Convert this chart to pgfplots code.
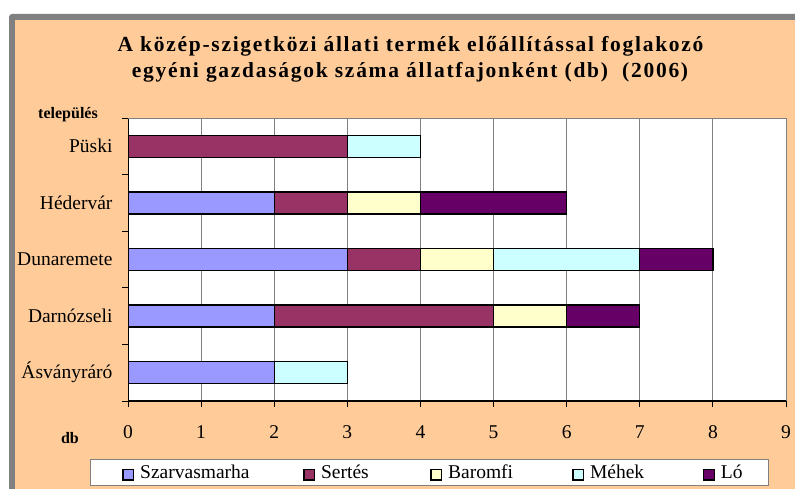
\documentclass[border=0pt]{standalone}
\usepackage{fontspec}
\setmainfont{Liberation Serif}
\newfontfamily\titlefont[LetterSpace=8]{Liberation Serif}
\usepackage{pgfplots}
\pgfplotsset{compat=1.18}
\definecolor{bgpeach}{HTML}{FFCC99}
\definecolor{framegray}{HTML}{808080}
\definecolor{cSz}{HTML}{9999FF}
\definecolor{cSe}{HTML}{993366}
\definecolor{cBa}{HTML}{FFFFCC}
\definecolor{cMe}{HTML}{CCFFFF}
\definecolor{cLo}{HTML}{660066}
\pgfplotsset{myleg/.style={legend image code/.code={\draw[##1, line width=1.3pt] (0.7pt,-2pt) rectangle (11.2pt,8.5pt);}}}
\begin{document}
\begin{tikzpicture}[x=1pt,y=1pt]
\useasboundingbox (0,0) rectangle (795,488);
\clip (0,0) rectangle (795,488);
\fill[white] (0,0) rectangle (795,488);
\fill[framegray, rounded corners=3pt] (9,-20) rectangle (815,474);
\fill[bgpeach] (15,-20) rectangle (815,468);
\node[font=\titlefont\bfseries\fontsize{21.5}{24}\selectfont, anchor=base, inner sep=0pt] at (410.5,436.3) {A közép-szigetközi állati termék előállítással foglakozó};
\node[font=\titlefont\bfseries\fontsize{21.5}{24}\selectfont, anchor=base, inner sep=0pt] at (410,410) {egyéni gazdaságok száma állatfajonként (db)\ \ (2006)};
\node[font=\bfseries\fontsize{16}{18}\selectfont, anchor=base, inner sep=0pt] at (68,369) {település};
\node[font=\bfseries\fontsize{16}{18}\selectfont, anchor=base, inner sep=0pt] at (70,45) {db};
\begin{axis}[
  at={(128pt,87pt)}, anchor=south west,
  scale only axis, width=658pt, height=283pt,
  xbar stacked, bar width=22pt,
  xmin=0, xmax=9, ymin=-0.5, ymax=4.5,
  xtick={0,...,9},
  ytick={-0.5,0.5,...,4.5}, yticklabels={},
  extra y ticks={0,1,2,3,4},
  extra y tick labels={Ásványráró,Darnózseli,Dunaremete,Hédervár,Püski},
  extra y tick style={major tick length=0pt, yticklabel style={xshift=-12pt}},
  xticklabel style={yshift=-15pt},
  xmajorgrids, major grid style={framegray, line width=1pt},
  axis line style={draw=none},
  axis background/.style={fill=white},
  tick align=outside, xtick pos=bottom, ytick pos=left,
  major tick length=6pt,
  tick style={black, line width=0.8pt},
  /pgf/number format/assume math mode=true,
  tick label style={font=\fontsize{19.5}{22}\selectfont},
  legend style={at={(axis description cs:-0.05775,-0.2049)}, anchor=north west,
    draw=framegray, fill=white, line width=0.8pt, legend columns=5,
    font=\fontsize{19.5}{22}\selectfont, inner xsep=32pt, inner ysep=5pt,
    column sep=0pt, nodes={inner sep=0pt, anchor=base west}},
]
\addplot[fill=cSz, draw=black, line width=1.3pt, myleg] coordinates {(2,0) (2,1) (3,2) (2,3) (0,4)};
\addlegendentry{\makebox[169.15pt][l]{\hspace{6pt}Szarvasmarha}}
\addplot[fill=cSe, draw=black, line width=1.3pt, myleg] coordinates {(0,0) (3,1) (1,2) (1,3) (3,4)};
\addlegendentry{\makebox[115.15pt][l]{\hspace{6pt}Sertés}}
\addplot[fill=cBa, draw=black, line width=1.3pt, myleg] coordinates {(0,0) (1,1) (1,2) (1,3) (0,4)};
\addlegendentry{\makebox[130.15pt][l]{\hspace{6pt}Baromfi}}
\addplot[fill=cMe, draw=black, line width=1.3pt, myleg] coordinates {(1,0) (0,1) (2,2) (0,3) (1,4)};
\addlegendentry{\makebox[119.15pt][l]{\hspace{6pt}Méhek}}
\addplot[fill=cLo, draw=black, line width=1.3pt, myleg] coordinates {(0,0) (1,1) (1,2) (2,3) (0,4)};
\addlegendentry{\makebox[21.15pt][l]{\hspace{6pt}Ló}}
\draw[framegray, line width=1pt] (rel axis cs:0,1) -- (rel axis cs:1,1) -- (rel axis cs:1,0);
\draw[black, line width=1.3pt] (rel axis cs:0,1) -- (rel axis cs:0,0) -- (rel axis cs:1,0);
\end{axis}
\end{tikzpicture}
\end{document}
